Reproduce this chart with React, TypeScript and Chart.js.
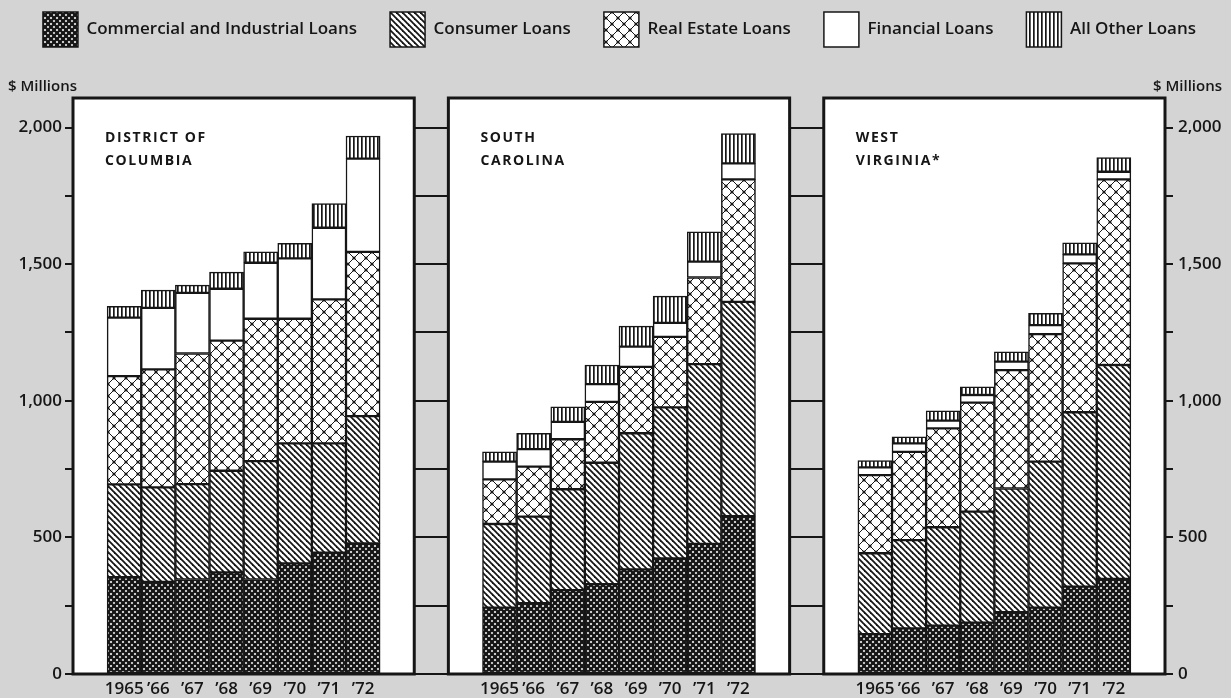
import React, { useEffect, useRef } from 'react';
import { Chart, registerables } from 'chart.js';

Chart.register(...registerables);

// ---------- data ----------
const YEARS = ['1965', '\u201966', '\u201967', '\u201968', '\u201969', '\u201970', '\u201971', '\u201972'];
const STATES = [
  ['DISTRICT OF', 'COLUMBIA'],
  ['SOUTH', 'CAROLINA'],
  ['WEST', 'VIRGINIA*'],
];
const SERIES = [
  'Commercial and Industrial Loans',
  'Consumer Loans',
  'Real Estate Loans',
  'Financial Loans',
  'All Other Loans',
];
const Y_TICKS = [0, 250, 500, 750, 1000, 1250, 1500, 1750, 2000];
const Y_UNIT = '$ Millions';

// District of Columbia ($ millions)
const DC_COMMERCIAL = [354, 337, 346, 372, 346, 405, 444, 478];
const DC_CONSUMER = [340, 346, 349, 372, 433, 439, 400, 466];
const DC_REAL_ESTATE = [396, 432, 478, 476, 521, 456, 527, 601];
const DC_FINANCIAL = [214, 225, 222, 190, 205, 221, 262, 341];
const DC_OTHER = [42, 65, 28, 61, 40, 55, 89, 83];

// South Carolina
const SC_COMMERCIAL = [243, 259, 307, 329, 383, 423, 476, 578];
const SC_CONSUMER = [306, 317, 369, 444, 498, 553, 658, 784];
const SC_REAL_ESTATE = [163, 183, 183, 223, 243, 258, 317, 448];
const SC_FINANCIAL = [65, 64, 64, 65, 74, 51, 58, 59];
const SC_OTHER = [36, 58, 55, 70, 75, 98, 109, 109];

// West Virginia
const WV_COMMERCIAL = [146, 167, 177, 188, 226, 243, 320, 348];
const WV_CONSUMER = [296, 323, 360, 406, 453, 534, 638, 783];
const WV_REAL_ESTATE = [286, 323, 362, 399, 433, 467, 545, 679];
const WV_FINANCIAL = [28, 31, 28, 28, 31, 33, 33, 28];
const WV_OTHER = [25, 24, 36, 30, 36, 43, 42, 52];

const STATE_DATA = [
  [DC_COMMERCIAL, DC_CONSUMER, DC_REAL_ESTATE, DC_FINANCIAL, DC_OTHER],
  [SC_COMMERCIAL, SC_CONSUMER, SC_REAL_ESTATE, SC_FINANCIAL, SC_OTHER],
  [WV_COMMERCIAL, WV_CONSUMER, WV_REAL_ESTATE, WV_FINANCIAL, WV_OTHER],
];

// ---------- layout / style ----------
const PANEL_START = [0, 11, 22];
const BG = '#d4d4d4';
const INK = '#161616';
const FONT = "'Open Sans', 'DejaVu Sans', sans-serif";
const LEGEND_PAD = 33;

function makePattern(kind: string): CanvasPattern | string {
  if (kind === 'white') return '#ffffff';
  const c = document.createElement('canvas');
  const size = kind === 'realestate' ? 12 : kind === 'other' ? 4 : 6;
  c.width = size;
  c.height = size;
  const g = c.getContext('2d')!;
  g.fillStyle = '#ffffff';
  g.fillRect(0, 0, size, size);
  g.strokeStyle = INK;
  g.fillStyle = INK;
  const back = (w: number) => {
    g.lineWidth = w;
    for (const k of [-size, 0, size]) {
      g.beginPath();
      g.moveTo(k - 1, -1);
      g.lineTo(k + size + 1, size + 1);
      g.stroke();
    }
  };
  const fwd = (w: number) => {
    g.lineWidth = w;
    for (const k of [-size, 0, size]) {
      g.beginPath();
      g.moveTo(k + size + 1, -1);
      g.lineTo(k - 1, size + 1);
      g.stroke();
    }
  };
  if (kind === 'commercial') {
    back(2.4);
    fwd(2.4);
  } else if (kind === 'consumer') {
    back(1.8);
  } else if (kind === 'realestate') {
    back(1);
    fwd(1);
    const dots = [[0, 0], [size, 0], [0, size], [size, size], [size / 2, size / 2]];
    for (const [x, y] of dots) {
      g.beginPath();
      g.arc(x, y, 1.6, 0, Math.PI * 2);
      g.fill();
    }
  } else if (kind === 'other') {
    g.fillRect(1, 0, 1.7, size);
  }
  return g.createPattern(c, 'repeat')!;
}

const panelPlugin = {
  id: 'panels',
  beforeDraw(chart: any) {
    const ctx = chart.ctx;
    ctx.save();
    ctx.fillStyle = BG;
    ctx.fillRect(0, 0, chart.width, chart.height);
    ctx.restore();
  },
  beforeDatasetsDraw(chart: any) {
    const { ctx, chartArea } = chart;
    const xs = chart.scales.x;
    ctx.save();
    PANEL_START.forEach((p, idx) => {
      const l = xs.getPixelForValue(p - 0.5);
      const r = xs.getPixelForValue(p + 9.5);
      ctx.fillStyle = '#ffffff';
      ctx.fillRect(l, chartArea.top, r - l, chartArea.bottom - chartArea.top);
      ctx.fillStyle = INK;
      ctx.font = `bold 14px ${FONT}`;
      (ctx as any).letterSpacing = '1.6px';
      ctx.textAlign = 'left';
      ctx.textBaseline = 'middle';
      STATES[idx].forEach((line, li) => {
        ctx.fillText(line, l + 32, chartArea.top + 40 + li * 23);
      });
      (ctx as any).letterSpacing = '0px';
    });
    ctx.restore();
  },
  afterDatasetsDraw(chart: any) {
    const { ctx, chartArea } = chart;
    const xs = chart.scales.x;
    const ys = chart.scales.y;
    ctx.save();
    ctx.strokeStyle = INK;
    ctx.lineWidth = 2;
    for (let i = 0; i < PANEL_START.length - 1; i++) {
      const a = xs.getPixelForValue(PANEL_START[i] + 9.5);
      const b = xs.getPixelForValue(PANEL_START[i + 1] - 0.5);
      Y_TICKS.forEach((v) => {
        const y = Math.round(ys.getPixelForValue(v));
        ctx.beginPath();
        ctx.moveTo(a, y);
        ctx.lineTo(b, y);
        ctx.stroke();
      });
    }
    ctx.lineWidth = 3;
    PANEL_START.forEach((p) => {
      const l = xs.getPixelForValue(p - 0.5);
      const r = xs.getPixelForValue(p + 9.5);
      ctx.strokeRect(l, chartArea.top, r - l, chartArea.bottom - chartArea.top);
    });
    ctx.restore();
  },
  afterDraw(chart: any) {
    const ctx = chart.ctx;
    ctx.save();
    ctx.fillStyle = INK;
    ctx.font = `600 15px ${FONT}`;
    ctx.textAlign = 'right';
    ctx.textBaseline = 'middle';
    ctx.fillText(Y_UNIT, 1222, 87);
    ctx.restore();
  },
};

export default function App() {
  const ref = useRef<HTMLCanvasElement | null>(null);

  useEffect(() => {
    if (!ref.current) return;
    const patterns = ['commercial', 'consumer', 'realestate', 'white', 'other'].map(makePattern);
    const tickPositions = PANEL_START.flatMap((p) => YEARS.map((_, i) => p + i + 1));
    const tickLabels = PANEL_START.flatMap(() => YEARS);

    const datasets = SERIES.map((name, s) => ({
      label: name,
      data: STATE_DATA.flatMap((st, p) =>
        st[s].map((v, i) => ({ x: PANEL_START[p] + i + 1, y: v }))
      ),
      backgroundColor: patterns[s],
      borderColor: INK,
      borderWidth: 1.5,
      borderSkipped: false,
      barPercentage: 1,
      categoryPercentage: 1,
    }));

    const tickFont = { family: FONT, size: 17, weight: '600' as any };

    const chart = new Chart(ref.current, {
      type: 'bar',
      data: { datasets: datasets as any },
      plugins: [panelPlugin],
      options: {
        animation: false,
        responsive: false,
        devicePixelRatio: 1,
        events: [],
        layout: { padding: { top: 12 - LEGEND_PAD, left: 8, right: 0, bottom: 0 } },
        plugins: {
          tooltip: { enabled: false },
          title: { display: false },
          legend: {
            display: true,
            position: 'top',
            labels: {
              boxWidth: 35,
              boxHeight: 35,
              padding: LEGEND_PAD,
              color: INK,
              font: { family: FONT, size: 17, weight: '600' as any },
            },
          },
          subtitle: {
            display: true,
            text: Y_UNIT,
            align: 'start',
            position: 'top',
            weight: 500,
            color: INK,
            font: { family: FONT, size: 15, weight: '600' as any, lineHeight: 1.2 },
            padding: { top: 21, bottom: 2 },
          } as any,
        },
        scales: {
          x: {
            type: 'linear',
            min: -0.5,
            max: 31.5,
            offset: false,
            stacked: true,
            grid: { display: false, drawTicks: false },
            border: { display: false },
            afterBuildTicks: (scale: any) => {
              scale.ticks = tickPositions.map((v) => ({ value: v }));
            },
            afterFit: (scale: any) => {
              scale.height = 24;
            },
            ticks: {
              autoSkip: false,
              maxRotation: 0,
              minRotation: 0,
              padding: 5,
              color: INK,
              font: tickFont,
              callback: (value: any) => {
                const i = tickPositions.indexOf(Number(value));
                return i >= 0 ? tickLabels[i] : '';
              },
            },
          },
          y: {
            position: 'left',
            min: 0,
            max: 2108,
            stacked: true,
            border: { display: false },
            grid: { drawOnChartArea: false, drawTicks: true, tickLength: 8, color: INK, lineWidth: 2 },
            afterBuildTicks: (scale: any) => {
              scale.ticks = Y_TICKS.map((v) => ({ value: v }));
            },
            afterFit: (scale: any) => {
              scale.width = 65;
            },
            ticks: {
              padding: 3,
              color: INK,
              font: tickFont,
              callback: (v: any) => (Number(v) % 500 === 0 ? Number(v).toLocaleString('en-US') : ''),
            },
          },
          y2: {
            position: 'right',
            min: 0,
            max: 2108,
            border: { display: false },
            grid: { drawOnChartArea: false, drawTicks: true, tickLength: 8, color: INK, lineWidth: 2 },
            afterBuildTicks: (scale: any) => {
              scale.ticks = Y_TICKS.map((v) => ({ value: v }));
            },
            afterFit: (scale: any) => {
              scale.width = 66;
            },
            ticks: {
              padding: 5,
              color: INK,
              font: tickFont,
              callback: (v: any) => (Number(v) % 500 === 0 ? Number(v).toLocaleString('en-US') : ''),
            },
          },
        },
      } as any,
    });
    return () => chart.destroy();
  }, []);

  return (
    <div style={{ position: 'fixed', left: 0, top: 0, width: 1231, height: 698, background: BG }}>
      <canvas ref={ref} width={1231} height={698} style={{ display: 'block', width: 1231, height: 698 }} />
    </div>
  );
}
